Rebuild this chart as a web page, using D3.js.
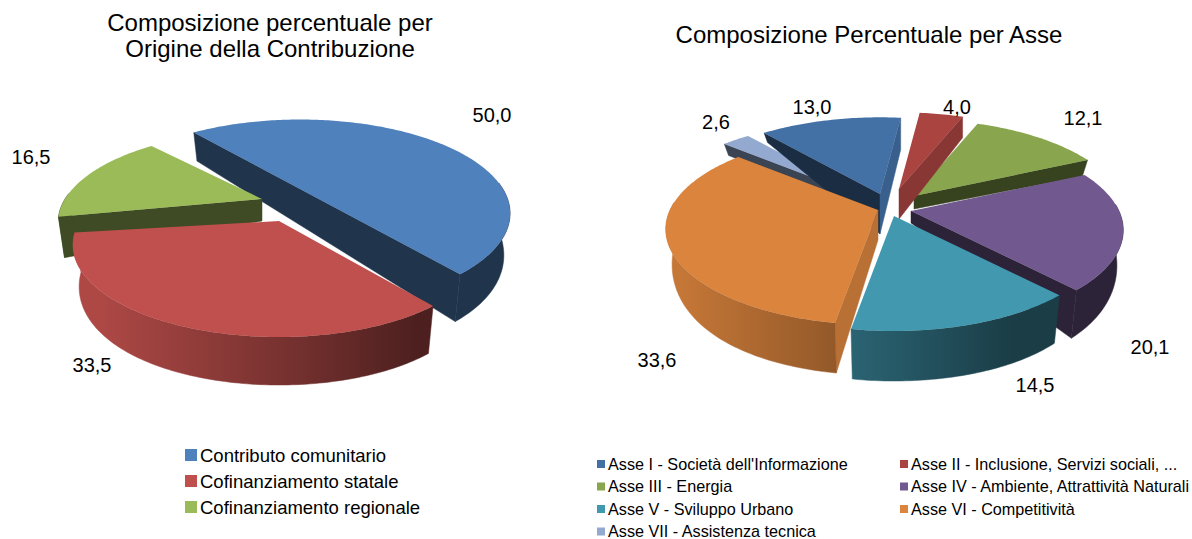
<!DOCTYPE html>
<html>
<head>
<meta charset="utf-8">
<script src="https://cdn.jsdelivr.net/npm/d3@7"></script>
<style>
  html, body { margin: 0; padding: 0; background: #fff; overflow: hidden; }
  text { font-family: "Liberation Sans", Arial, sans-serif; fill: #000; }
</style>
</head>
<body>
<svg id="chart" width="1192" height="539"></svg>
<script>
// data
var origineLabels = ["Contributo comunitario", "Cofinanziamento statale", "Cofinanziamento regionale"];
var origineValues = [50.0, 33.5, 16.5];
var origineColors = ["#4f81bd", "#c0504d", "#9bbb59"];

var asseLabels = ["Asse I - Società dell'Informazione", "Asse II - Inclusione, Servizi sociali, ...",
  "Asse III - Energia", "Asse IV - Ambiente, Attrattività Naturali",
  "Asse V - Sviluppo Urbano", "Asse VI - Competitività", "Asse VII - Assistenza tecnica"];
var asseValues = [13.0, 4.0, 12.1, 20.1, 14.5, 33.6, 2.6];
var asseColors = ["#4371a5", "#a94441", "#89a54e", "#71588f", "#4198af", "#db843d", "#93a9cf"];

var svg = d3.select("#chart"),
    defs = svg.append("defs");
var fmt = d3.formatLocale({decimal: ",", thousands: ".", grouping: [3], currency: ["", ""]}).format(".1f");
var rad = function(deg) { return deg * Math.PI / 180; };

// wall colour depends on which way the cut face looks
var wallShade = d3.scaleLinear().domain([0.43, 0.99]).range([0.4, 0.85]).clamp(true);
var rimShade = d3.scaleLinear().domain([0, 0.5, 0.8, 1]).range([0.9, 0.6, 0.4, 0.4]);

function darker(color, f) {
  var c = d3.rgb(color);
  return d3.rgb(c.r * f, c.g * f, c.b * f).formatHex();
}

function drawPie(cfg) {
  var g = svg.append("g");
  var slices = d3.pie().sort(null)
    .startAngle(rad(cfg.start))
    .endAngle(rad(cfg.start + 360))(cfg.values);
  var line = d3.line();

  function depth(v) {
    var t = (v + 1) / 2;
    return cfg.depthBack + (cfg.depthFront - cfg.depthBack) * t * t * (3 - 2 * t);
  }

  cfg.order.forEach(function(i) {
    var d = slices[i], color = cfg.colors[i];
    var ax = cfg.cx + cfg.shift[i][0],
        ay = cfg.cy + cfg.shift[i][1],
        k = cfg.scale ? cfg.scale[i] : 1,
        turn = cfg.turn ? rad(cfg.turn[i]) : 0,
        a0 = d.startAngle + turn,
        a1 = d.endAngle + turn;

    function top(a) {
      var u = Math.sin(a), v = -Math.cos(a), s = k / (1 - cfg.persp * v);
      return [ax + cfg.rx * u * s, ay + cfg.ry * v * s];
    }
    function bottom(a) {
      var p = top(a);
      return [ax + (p[0] - ax) * 0.97, p[1] + depth(-Math.cos(a))];
    }
    var angles = d3.range(a0, a1, rad(1)).concat([a1]);
    var apex = [ax, ay], apexLow = [ax, ay + cfg.apexDepth[i]];

    // cut faces, only the ones turned to the viewer
    [[a0, -1], [a1, 1]].forEach(function(w) {
      var nu = w[1] * Math.cos(w[0]), nv = w[1] * Math.sin(w[0]);
      if (nv < 0) return;
      var c = darker(color, wallShade(nu));
      var low = bottom(w[0]);
      if (w[1] > 0 && cfg.endDepth && cfg.endDepth[i]) {
        low = [top(w[0])[0], top(w[0])[1] + cfg.endDepth[i]];
      }
      g.append("path")
        .attr("d", line([apex, top(w[0]), low, apexLow]) + "Z")
        .attr("fill", c).attr("stroke", c).attr("stroke-width", 0.5);
    });

    // outer rim with the left to right shading, front part only
    var front = angles.filter(function(a) { return -Math.cos(a) > -0.08; });
    if (front.length > 1) {
      var id = "rim" + cfg.id + i;
      var grad = defs.append("linearGradient").attr("id", id)
        .attr("gradientUnits", "userSpaceOnUse")
        .attr("x1", cfg.cx - cfg.rx).attr("x2", cfg.cx + cfg.rx)
        .attr("y1", 0).attr("y2", 0);
      rimShade.domain().forEach(function(o) {
        grad.append("stop").attr("offset", o).attr("stop-color", darker(color, rimShade(o)));
      });
      // a sliver of rim next to a cut face just takes the face colour
      var paint = front.length < 30 ? darker(color, 0.4) : "url(#" + id + ")";
      var rim = front.map(top).concat(front.slice().reverse().map(bottom));
      g.append("path").attr("d", line(rim) + "Z")
        .attr("fill", paint).attr("stroke", paint).attr("stroke-width", 0.5);
    }

    // top face
    var face = [apex].concat(angles.map(top));
    g.append("path").attr("d", line(face) + "Z").attr("fill", color);
  });

  g.selectAll(".val")
    .data(cfg.values)
    .enter().append("text")
      .attr("class", "val")
      .attr("x", function(d, i) { return cfg.labelPos[i][0]; })
      .attr("y", function(d, i) { return cfg.labelPos[i][1]; })
      .attr("text-anchor", "middle")
      .attr("font-size", 20)
      .text(function(d) { return fmt(d); });
}

function drawTitle(lines, x, y0) {
  svg.selectAll(null).data(lines).enter().append("text")
    .attr("x", x)
    .attr("y", function(d, i) { return y0 + i * 26; })
    .attr("text-anchor", "middle")
    .attr("font-size", 24)
    .text(function(d) { return d; });
}

function drawLegend(labels, colors, pos, box, size) {
  var items = svg.selectAll(null).data(labels).enter().append("g")
    .attr("transform", function(d, i) { return "translate(" + pos(i)[0] + "," + pos(i)[1] + ")"; });
  items.append("rect")
    .attr("x", 0).attr("y", -box / 2)
    .attr("width", box).attr("height", box)
    .attr("fill", function(d, i) { return colors[i]; });
  items.append("text")
    .attr("x", box + 3)
    .attr("y", size * 0.36)
    .attr("font-size", size)
    .text(function(d) { return d; });
}

drawTitle(["Composizione percentuale per", "Origine della Contribuzione"], 270, 31);
drawTitle(["Composizione Percentuale per Asse"], 869, 43);

drawPie({
  id: "a", values: origineValues, colors: origineColors,
  start: -39, cx: 298, cy: 198, rx: 197, ry: 85, persp: 0.26,
  depthBack: 28, depthFront: 48,
  shift: [[2, -9], [-19, 23], [-36, 1]],
  scale: [1.03, 1.01, 1],
  turn: [0, 1, -3],
  apexDepth: [36, 30, 22],
  order: [0, 2, 1],
  labelPos: [[492, 122], [92, 372], [31, 164]]
});

drawPie({
  id: "b", values: asseValues, colors: asseColors,
  start: -40, cx: 888, cy: 208, rx: 208, ry: 92, persp: 0.2,
  depthBack: 8, depthFront: 50,
  shift: [[-8, -14], [11, -19], [26, -12], [23, 3], [6, 8], [-10, 2], [-24, -11]],
  apexDepth: [40, 30, 13, 12, 30, 30, 13],
  endDepth: [32, 21, 0, 0, 0, 0, 0],
  order: [2, 1, 6, 0, 3, 4, 5],
  labelPos: [[812, 114], [957, 114], [1083, 125], [1150, 354], [1035, 392], [657, 367], [716, 129]]
});

drawLegend(origineLabels, origineColors, function(i) { return [185, 455 + i * 26]; }, 12, 18.5);
drawLegend(asseLabels, asseColors, function(i) {
  return [i % 2 ? 900 : 597, 464 + Math.floor(i / 2) * 22.5];
}, 8, 16.2);
</script>
</body>
</html>
